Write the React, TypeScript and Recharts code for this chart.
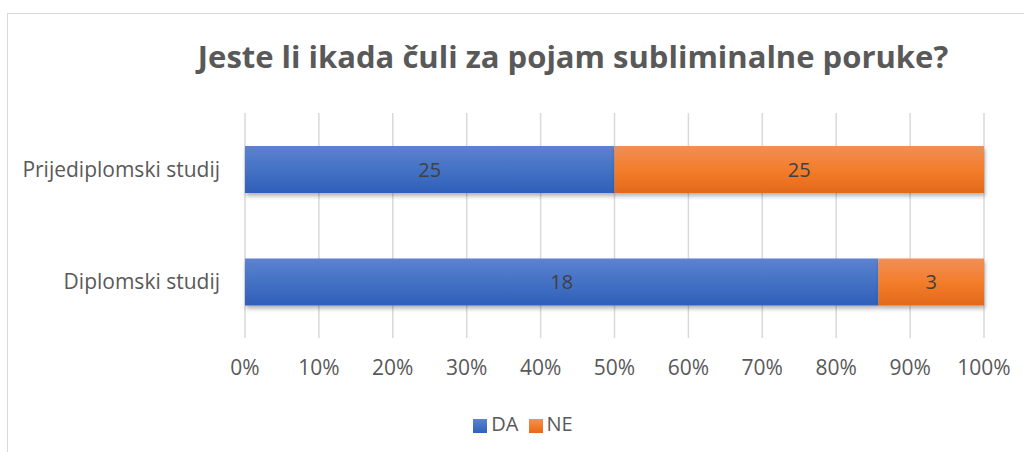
import { BarChart, Bar, XAxis, YAxis, CartesianGrid, Legend, LabelList } from "recharts";

const categories = ["Prijediplomski studij", "Diplomski studij"];
const daValues = [25, 18];
const neValues = [25, 3];
const xTicks = [0, 0.1, 0.2, 0.3, 0.4, 0.5, 0.6, 0.7, 0.8, 0.9, 1];

const data = categories.map((name, i) => ({ name, DA: daValues[i], NE: neValues[i] }));

const FONT = "'Open Sans', sans-serif";

export default function App() {
  return (
    <div style={{ position: "absolute", left: 0, top: 0, width: 1024, height: 452, overflow: "hidden", background: "#fff", fontFamily: FONT }}>
      <div style={{ position: "absolute", left: 7, top: 13, width: 1100, height: 500, border: "1px solid #d9d9d9" }} />
      <div style={{ position: "absolute", left: 0, top: 35, width: 1146, textAlign: "center", fontSize: 31, fontWeight: 700, color: "#595959" }}>
        Jeste li ikada čuli za pojam subliminalne poruke?
      </div>
      <div style={{ position: "absolute", left: 0, top: 0 }}>
        <BarChart
          width={1024}
          height={452}
          data={data}
          layout="vertical"
          stackOffset="expand"
          barSize={47}
          margin={{ top: 113, right: 40, bottom: 57, left: 15 }}
        >
          <defs>
            <linearGradient id="gradDA" x1="0" y1="0" x2="0" y2="1">
              <stop offset="0%" stopColor="#5d82d0" />
              <stop offset="50%" stopColor="#4472c4" />
              <stop offset="100%" stopColor="#2f5fba" />
            </linearGradient>
            <linearGradient id="gradNE" x1="0" y1="0" x2="0" y2="1">
              <stop offset="0%" stopColor="#f08f58" />
              <stop offset="50%" stopColor="#f47d2b" />
              <stop offset="100%" stopColor="#e2691b" />
            </linearGradient>
            <filter id="shadow" x="-5%" y="-20%" width="110%" height="150%">
              <feDropShadow dx="1" dy="3" stdDeviation="2" floodColor="#000" floodOpacity="0.3" />
            </filter>
          </defs>
          <CartesianGrid horizontal={false} stroke="#d9d9d9" strokeWidth={1.5} />
          <XAxis
            type="number"
            domain={[0, 1]}
            ticks={xTicks}
            tickFormatter={(v) => `${Math.round(v * 100)}%`}
            axisLine={false}
            tickLine={false}
            tickSize={0}
            tickMargin={22}
            tick={{ fill: "#595959", fontSize: 21, fontFamily: FONT }}
            interval={0}
          />
          <YAxis
            type="category"
            dataKey="name"
            width={230}
            axisLine={false}
            tickLine={false}
            tickSize={0}
            tickMargin={25}
            tick={{ fill: "#595959", fontSize: 21, fontFamily: FONT }}
          />
          <Legend
            verticalAlign="bottom"
            align="center"
            iconType="square"
            iconSize={14}
            wrapperStyle={{ left: 0, width: 1056, bottom: 15, fontSize: 20, fontFamily: FONT }}
            formatter={(value) => <span style={{ color: "#595959" }}>{value}</span>}
          />
          <Bar dataKey="DA" stackId="a" fill="url(#gradDA)" legendType="square" isAnimationActive={false} filter="url(#shadow)">
            <LabelList dataKey="DA" position="center" fill="#404040" fontSize={20} fontFamily={FONT} />
          </Bar>
          <Bar dataKey="NE" stackId="a" fill="url(#gradNE)" legendType="square" isAnimationActive={false} filter="url(#shadow)">
            <LabelList dataKey="NE" position="center" fill="#404040" fontSize={20} fontFamily={FONT} />
          </Bar>
        </BarChart>
      </div>
    </div>
  );
}
